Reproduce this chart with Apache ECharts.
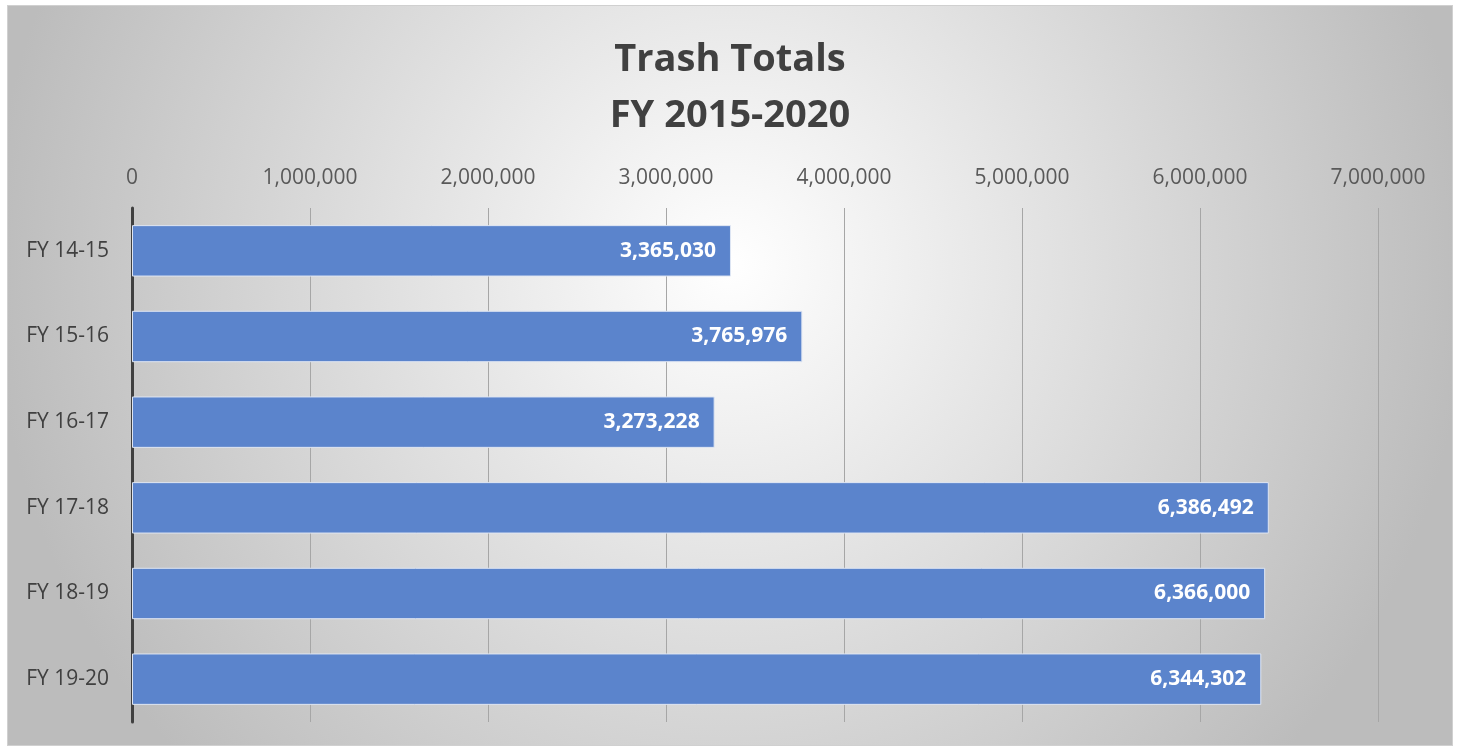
<!DOCTYPE html>
<html>
<head>
<meta charset="utf-8">
<script src="https://cdn.jsdelivr.net/npm/echarts@6/dist/echarts.min.js"></script>
<style>
  html, body { margin: 0; padding: 0; background: #ffffff; }
  #trash-totals {
    position: absolute; left: 7px; top: 5px;
    width: 1444px; height: 739px;
    border: 1px solid #d0d0d0;
  }
</style>
</head>
<body>
<div id="trash-totals"></div>
<script>
// data
var years = ['FY 14-15', 'FY 15-16', 'FY 16-17', 'FY 17-18', 'FY 18-19', 'FY 19-20'];
var totals = [3365030, 3765976, 3273228, 6386492, 6366000, 6344302];

trashTotals()

//垃圾总量
function trashTotals() {
  var myChart = echarts.init(document.getElementById('trash-totals'));

  var option = {
    backgroundColor: {
      type: 'radial',
      x: 0.5, y: 0.35, r: 1.0,
      colorStops: [
        { offset: 0, color: '#ffffff' },
        { offset: 1, color: '#bcbcbc' }
      ]
    },
    textStyle: {
      fontFamily: 'Open Sans'
    },
    title: {
      text: 'Trash Totals\nFY 2015-2020',
      left: 'center',
      top: 21,
      textStyle: {
        fontSize: 38,
        fontWeight: 'bold',
        color: '#404040',
        lineHeight: 56,
        fontFamily: 'Open Sans'
      }
    },
    grid: {
      left: 124,
      top: 202,
      width: 1246,
      height: 514,
      containLabel: false
    },
    xAxis: {
      type: 'value',
      position: 'top',
      min: 0,
      max: 7000000,
      interval: 1000000,
      axisLine: { show: false },
      axisTick: { show: false },
      splitLine: {
        show: true,
        lineStyle: { color: '#a6a6a6', width: 1 }
      },
      axisLabel: {
        color: '#595959',
        fontSize: 21,
        margin: 19,
        formatter: function (v) {
          return v.toLocaleString('en-US');
        }
      }
    },
    yAxis: {
      type: 'category',
      inverse: true,
      data: years,
      axisTick: { show: false },
      axisLine: {
        show: true,
        lineStyle: { color: '#404040', width: 3 }
      },
      axisLabel: {
        color: '#404040',
        fontSize: 21,
        margin: 23
      }
    },
    series: [{
      name: 'Trash Totals',
      type: 'bar',
      data: totals,
      barCategoryGap: '40%',
      itemStyle: {
        color: '#5b84cc',
        borderColor: '#dfe6f3',
        borderWidth: 1
      },
      label: {
        show: true,
        position: 'insideRight',
        distance: 15,
        color: '#ffffff',
        fontSize: 21,
        fontWeight: 'bold',
        formatter: function (p) {
          return p.value.toLocaleString('en-US');
        }
      }
    }]
  };

  myChart.setOption(option);
}
</script>
</body>
</html>
